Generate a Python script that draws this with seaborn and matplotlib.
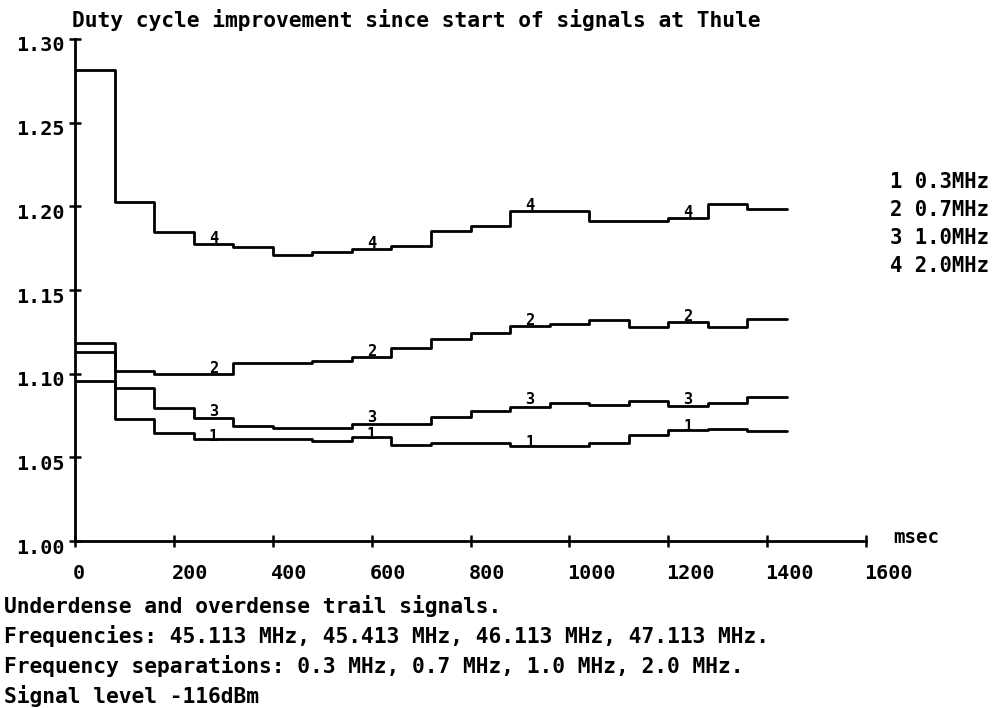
import numpy as np
import pandas as pd
import matplotlib
matplotlib.use("Agg")
import matplotlib.pyplot as plt
import matplotlib.transforms as mtransforms
import seaborn as sns

# ---------------- data ----------------
title = "Duty cycle improvement since start of signals at Thule"
bin_width_msec = 80
bin_start_msec = [0, 80, 160, 240, 320, 400, 480, 560, 640, 720,
                  800, 880, 960, 1040, 1120, 1200, 1280, 1360]
series_ids = ["1", "2", "3", "4"]
separations = ["0.3MHz", "0.7MHz", "1.0MHz", "2.0MHz"]

duty_sep_03 = [1.0958, 1.0727, 1.0644, 1.0608, 1.0608, 1.0608, 1.0600, 1.0620, 1.0574,
               1.0588, 1.0588, 1.0570, 1.0570, 1.0588, 1.0634, 1.0663, 1.0668, 1.0658]
duty_sep_07 = [1.1182, 1.1018, 1.0998, 1.0998, 1.1062, 1.1066, 1.1076, 1.1098, 1.1152,
               1.1206, 1.1241, 1.1285, 1.1297, 1.1321, 1.1277, 1.1309, 1.1277, 1.1327]
duty_sep_10 = [1.1132, 1.0913, 1.0793, 1.0733, 1.0687, 1.0674, 1.0674, 1.0698, 1.0698,
               1.0739, 1.0779, 1.0803, 1.0823, 1.0811, 1.0839, 1.0807, 1.0823, 1.0863]
duty_sep_20 = [1.2815, 1.2028, 1.1845, 1.1775, 1.1759, 1.1709, 1.1729, 1.1744, 1.1763,
               1.1853, 1.1883, 1.1973, 1.1973, 1.1915, 1.1915, 1.1929, 1.2013, 1.1984]
series_values = [duty_sep_03, duty_sep_07, duty_sep_10, duty_sep_20]

label_bins = [3, 7, 11, 15]
x_ticks = [0, 200, 400, 600, 800, 1000, 1200, 1400, 1600]
y_ticks = [1.00, 1.05, 1.10, 1.15, 1.20, 1.25, 1.30]
x_unit = "msec"
notes = [
    "Underdense and overdense trail signals.",
    "Frequencies: 45.113 MHz, 45.413 MHz, 46.113 MHz, 47.113 MHz.",
    "Frequency separations: 0.3 MHz, 0.7 MHz, 1.0 MHz, 2.0 MHz.",
    "Signal level -116dBm",
]

# ---------------- table ----------------
rows = []
for sid, vals in zip(series_ids, series_values):
    times = list(bin_start_msec) + [bin_start_msec[-1] + bin_width_msec]
    ys = list(vals) + [vals[-1]]
    for t, v in zip(times, ys):
        rows.append({"series": sid, "time": t, "value": v})
df = pd.DataFrame(rows)

# ---------------- style ----------------
sns.set_style("ticks")
plt.rcParams["font.family"] = ["DejaVu Sans Mono", "DejaVu Sans"]
plt.rcParams["font.weight"] = "bold"
for key in ("text.color", "axes.labelcolor", "xtick.color", "ytick.color",
            "axes.edgecolor"):
    plt.rcParams[key] = "black"
FS = 15.3
FS_TICK = 14.5
# vertical nudge (points) of the curve-number labels, per series
label_nudge_pt = [-1.0, 0.8, 1.6, 0.8]

W, H = 997, 708
fig = plt.figure(figsize=(W / 100, H / 100), dpi=100)
ax = fig.add_axes([75 / W, 1 - 541 / H, (866 - 75) / W, (541 - 39) / H])

sns.lineplot(data=df, x="time", y="value", units="series", estimator=None,
             drawstyle="steps-post", color="black", linewidth=2.0,
             ax=ax, legend=False)

ax.set_xlim(0, 1600)
ax.set_ylim(1.0, 1.3)
ax.set_xlabel("")
ax.set_ylabel("")
sns.despine(ax=ax)
for side in ("left", "bottom"):
    ax.spines[side].set_linewidth(2.0)
    ax.spines[side].set_color("black")

ax.set_xticks(x_ticks)
ax.set_xticklabels([str(t) for t in x_ticks])
ax.set_yticks(y_ticks)
ax.set_yticklabels([f"{v:.2f}" for v in y_ticks])
ax.tick_params(axis="both", direction="inout", length=9, width=1.8,
               color="black", labelsize=FS_TICK, labelcolor="black")
ax.tick_params(axis="x", pad=12)
ax.tick_params(axis="y", pad=3)

for tick in ax.xaxis.get_major_ticks():
    lbl = tick.label1
    lbl.set_horizontalalignment("left")
    lbl.set_fontweight("bold")
    lbl.set_transform(lbl.get_transform() +
                      mtransforms.ScaledTranslation(-0.02, 0, fig.dpi_scale_trans))
for tick in ax.yaxis.get_major_ticks():
    lbl = tick.label1
    lbl.set_fontweight("bold")
    lbl.set_transform(lbl.get_transform() +
                      mtransforms.ScaledTranslation(0, -0.05, fig.dpi_scale_trans))

# curve number labels
for sid, vals, nudge in zip(series_ids, series_values, label_nudge_pt):
    for b in label_bins:
        xc = bin_start_msec[b] + bin_width_msec / 2
        ax.annotate(sid, (xc, vals[b]), xytext=(0, nudge), textcoords="offset points",
                    ha="center", va="baseline", fontsize=11, fontweight="bold",
                    color="black")

# unit label at the end of x axis
fig.text(893 / W, 1 - 543 / H, x_unit, fontsize=FS - 1.5, fontweight="bold",
         ha="left", va="baseline")

# legend-like key
for i, (sid, sep) in enumerate(zip(series_ids, separations)):
    fig.text(890 / W, 1 - (188 + 28 * i) / H, f"{sid} {sep}", fontsize=FS - 0.5,
             fontweight="bold", ha="left", va="baseline")

# title
fig.text(72 / W, 1 - 27 / H, title, fontsize=FS, fontweight="bold",
         ha="left", va="baseline")

# notes
for i, note in enumerate(notes):
    fig.text(4 / W, 1 - (613 + 30 * i) / H, note, fontsize=FS, fontweight="bold",
             ha="left", va="baseline")

fig.savefig("out.png", dpi=100, facecolor="white")
